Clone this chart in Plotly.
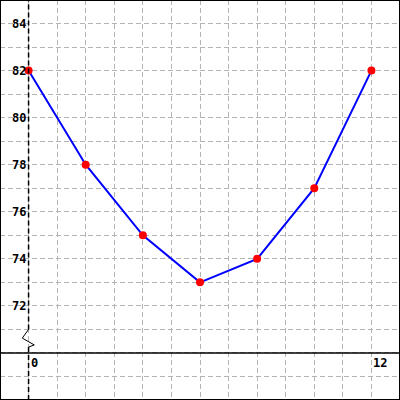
import plotly.graph_objects as go

# Data
x_vals = [0, 2, 4, 6, 8, 10, 12]
y_vals = [82, 78, 75, 73, 74, 77, 82]
x_tick_vals = [0, 12]
x_tick_text = ["0", "12"]
y_tick_vals = [72, 74, 76, 78, 80, 82, 84]
y_tick_text = ["72", "74", "76", "78", "80", "82", "84"]

x_range = [-1, 13]
y_range = [68, 85]
axis_x = 0          # position of vertical (y) axis
axis_y = 70         # position of horizontal (x) axis (broken y-axis)
break_top = 71.0
break_bot = 70.25

font_fam = "DejaVu Sans Mono"

fig = go.Figure()
fig.add_trace(go.Scatter(
    x=x_vals, y=y_vals, mode="lines+markers",
    line=dict(color="#0000ff", width=2),
    marker=dict(color="#ff0000", size=8),
    showlegend=False, hoverinfo="skip",
))

shapes = []
# y-axis dashed line (with break)
shapes.append(dict(type="line", xref="x", yref="y", x0=axis_x, x1=axis_x,
                   y0=break_top, y1=y_range[1],
                   line=dict(color="black", width=1.5, dash="5px,3px"), layer="above"))
shapes.append(dict(type="line", xref="x", yref="y", x0=axis_x, x1=axis_x,
                   y0=y_range[0], y1=break_bot,
                   line=dict(color="black", width=1.5, dash="5px,3px"), layer="above"))
# break zigzag
shapes.append(dict(type="path", xref="x", yref="y",
                   path=f"M {axis_x},{break_top} L {axis_x-0.22},70.63 L {axis_x+0.2},70.34 L {axis_x},{break_bot}",
                   line=dict(color="black", width=1), layer="above"))
# x-axis solid line
shapes.append(dict(type="line", xref="x", yref="y", x0=x_range[0], x1=x_range[1],
                   y0=axis_y, y1=axis_y,
                   line=dict(color="black", width=1.5), layer="above"))
# border
shapes.append(dict(type="rect", xref="paper", yref="paper", x0=0, x1=1, y0=0, y1=1,
                   line=dict(color="black", width=2), layer="above"))

annotations = []
for v, t in zip(y_tick_vals, y_tick_text):
    annotations.append(dict(x=axis_x, y=v, xref="x", yref="y", text=t, showarrow=False,
                            xanchor="right", yanchor="middle", xshift=-1,
                            font=dict(family=font_fam, size=12, color="black", weight="bold")))
for v, t in zip(x_tick_vals, x_tick_text):
    annotations.append(dict(x=v, y=axis_y, xref="x", yref="y", text=t, showarrow=False,
                            xanchor="left", yanchor="top", xshift=0, yshift=-1,
                            font=dict(family=font_fam, size=12, color="black", weight="bold")))

fig.update_layout(
    width=400, height=400,
    margin=dict(l=0, r=0, t=0, b=0),
    paper_bgcolor="white", plot_bgcolor="white",
    shapes=shapes, annotations=annotations,
    xaxis=dict(range=x_range, dtick=1, tick0=0, showgrid=True, gridcolor="#b4b4b4",
               griddash="5px,3px", gridwidth=1, zeroline=False, showticklabels=False,
               ticks="", showline=False, fixedrange=True),
    yaxis=dict(range=y_range, dtick=1, tick0=0, showgrid=True, gridcolor="#b4b4b4",
               griddash="5px,3px", gridwidth=1, zeroline=False, showticklabels=False,
               ticks="", showline=False, fixedrange=True),
)

fig.write_html("out.html", config={"displayModeBar": False},
               post_script="document.body.style.margin='0';document.body.style.overflow='hidden';")
